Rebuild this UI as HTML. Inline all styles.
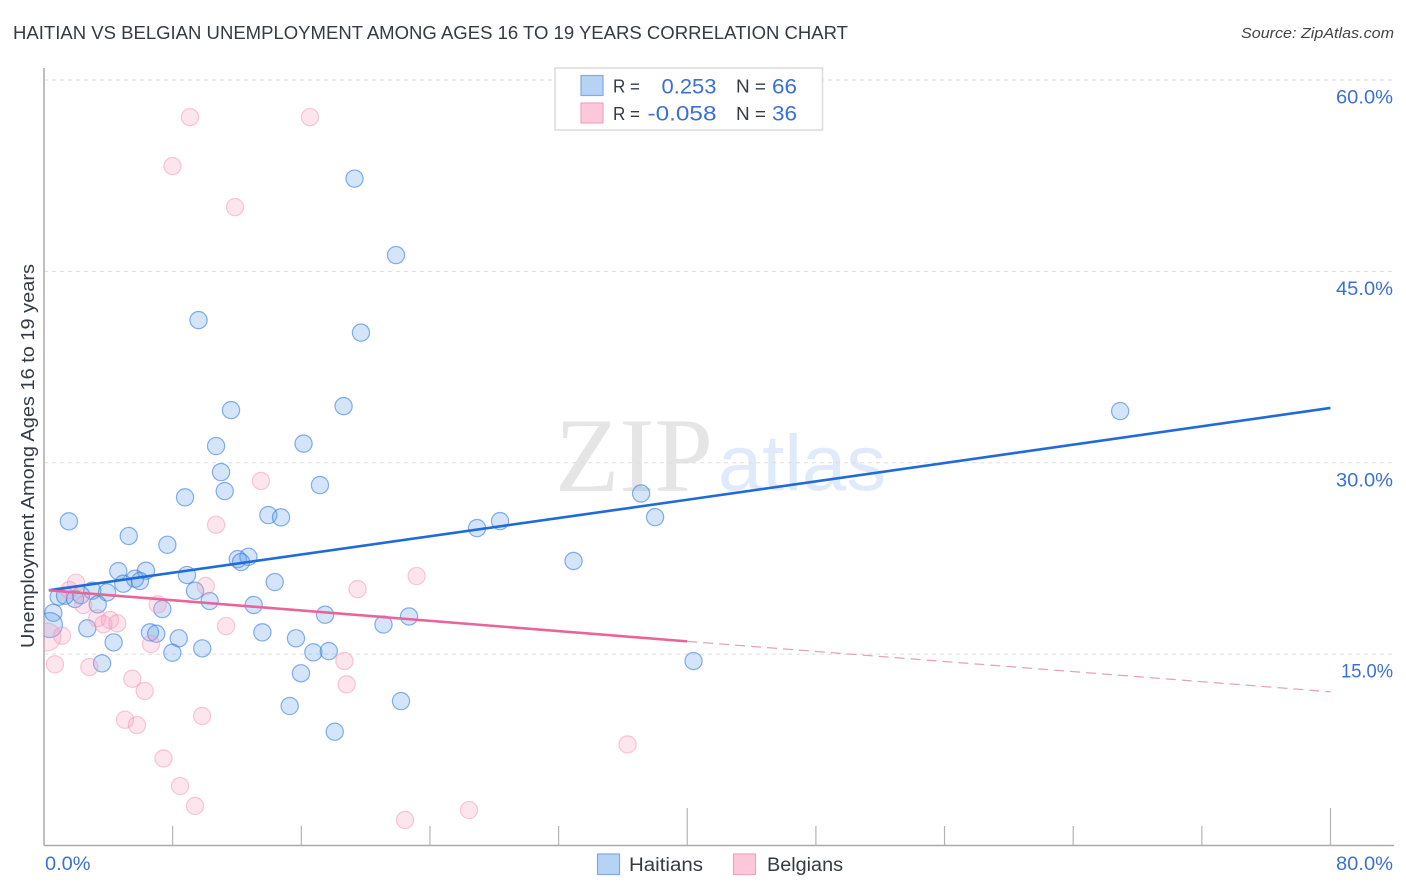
<!DOCTYPE html>
<html lang="en">
<head>
<meta charset="utf-8">
<title>Haitian vs Belgian Unemployment Correlation Chart</title>
<style>
html,body{margin:0;padding:0;background:#fff;}
svg{display:block;font-family:"Liberation Sans",sans-serif;}
</style>
</head>
<body>
<svg id="chart" xmlns="http://www.w3.org/2000/svg" width="1406" height="892" viewBox="0 0 1406 892">
  <defs>
    <clipPath id="plot-clip"><rect x="44" y="68" width="1350" height="777"/></clipPath>
  </defs>
  <rect x="0" y="0" width="1406" height="892" fill="#ffffff"/>
  <text x="13" y="39" font-size="18.5" fill="#333b44" textLength="835" lengthAdjust="spacingAndGlyphs">HAITIAN VS BELGIAN UNEMPLOYMENT AMONG AGES 16 TO 19 YEARS CORRELATION CHART</text>
  <text x="1394" y="38" font-size="15" font-style="italic" fill="#444" text-anchor="end" textLength="153" lengthAdjust="spacingAndGlyphs">Source: ZipAtlas.com</text>

  <g>
    <text x="555" y="491" font-family="'Liberation Serif',serif" font-size="106" fill="#e5e5e5" textLength="158" lengthAdjust="spacingAndGlyphs">ZIP</text>
    <text x="718" y="490" font-size="79" fill="#e0eafa" textLength="168" lengthAdjust="spacingAndGlyphs">atlas</text>
  </g>

  <g id="grid"></g>
  <g id="axes"></g>
  <g id="points" clip-path="url(#plot-clip)"></g>
  <g id="trends"></g>
  <g id="tick-labels"></g>

  <text transform="translate(34,456) rotate(-90)" font-size="18.5" fill="#333b44" text-anchor="middle" textLength="384" lengthAdjust="spacingAndGlyphs">Unemployment Among Ages 16 to 19 years</text>

  <g>
    <rect x="555" y="68" width="267.5" height="62" fill="#ffffff" stroke="#dcdcdc" stroke-width="1.5"/>
    <rect x="581" y="75.5" width="22" height="20" fill="#b6d2f5" stroke="#7fabe6" stroke-width="1.2"/>
    <rect x="581" y="103" width="22" height="20" fill="#fcc8da" stroke="#f2a3bd" stroke-width="1.2"/>
    <text x="613" y="92.5" font-size="18" fill="#333b44" textLength="27" lengthAdjust="spacingAndGlyphs">R =</text>
    <text x="716.5" y="93.5" font-size="21" fill="#3c70d2" text-anchor="end" textLength="55" lengthAdjust="spacingAndGlyphs">0.253</text>
    <text x="736" y="92.5" font-size="18" fill="#333b44" textLength="30" lengthAdjust="spacingAndGlyphs">N =</text>
    <text x="797" y="93.5" font-size="21" fill="#3c70d2" text-anchor="end" textLength="25" lengthAdjust="spacingAndGlyphs">66</text>
    <text x="613" y="120" font-size="18" fill="#333b44" textLength="27" lengthAdjust="spacingAndGlyphs">R =</text>
    <text x="716.5" y="120.5" font-size="21" fill="#3c70d2" text-anchor="end" textLength="69" lengthAdjust="spacingAndGlyphs">-0.058</text>
    <text x="736" y="120" font-size="18" fill="#333b44" textLength="30" lengthAdjust="spacingAndGlyphs">N =</text>
    <text x="797" y="120.5" font-size="21" fill="#3c70d2" text-anchor="end" textLength="25" lengthAdjust="spacingAndGlyphs">36</text>
  </g>

  <g>
    <g>
      <rect x="597.5" y="854" width="22" height="20.5" fill="#b6d2f5" stroke="#7fabe6" stroke-width="1.2"/>
      <text x="629" y="871" font-size="19" fill="#333b44" textLength="74" lengthAdjust="spacingAndGlyphs">Haitians</text>
    </g>
    <g>
      <rect x="733.5" y="854" width="22" height="20.5" fill="#fcc8da" stroke="#f2a3bd" stroke-width="1.2"/>
      <text x="767" y="871" font-size="19" fill="#333b44" textLength="76" lengthAdjust="spacingAndGlyphs">Belgians</text>
    </g>
  </g>
</svg>
<script>
// Chart data (values in percent)
var haitianX = [19.31,21.89,9.61,19.71,18.63,11.63,66.92,10.70,16.14,11.01,37.13,38.00,28.36,26.93,32.93,22.70,21.11,40.39,22.20,1.55,5.27,7.67,8.77,11.24,13.95,14.74,17.16,12.05,12.71,12.25,4.62,6.34,8.89,5.66,5.97,4.93,14.35,3.00,3.92,0.91,1.31,1.93,2.30,3.34,9.39,10.30,13.04,7.36,17.48,0.58,0.37,2.69,6.59,6.98,8.38,13.58,15.67,4.33,9.84,7.98,16.75,17.71,3.61,15.98,15.28,18.08];
var haitianY = [52.27,46.28,41.18,40.20,34.44,34.13,34.05,31.31,31.50,29.27,27.59,25.74,25.43,24.88,22.30,17.95,17.32,14.46,11.32,25.41,24.26,23.57,27.29,27.78,25.90,25.72,28.25,22.45,22.63,22.22,21.51,21.54,21.20,20.91,20.73,20.52,20.65,19.97,19.84,19.50,19.58,19.32,19.63,18.90,19.97,19.16,18.85,18.53,18.09,18.24,17.28,17.02,16.71,16.60,16.24,16.71,16.24,15.92,15.45,15.11,15.14,15.24,14.28,13.50,10.93,8.92];
var haitianWeight = [1,1,1,1,1,1,1,1,1,1,1,1,1,1,1,1,1,1,1,1,1,1,1,1,1,1,1,1,1,1,1,1,1,1,1,1,1,1,1,1,1,1,1,1,1,1,1,1,1,1,2.1,1,1,1,1,1,1,1,1,1,1,1,1,1,1,1];
var belgianX = [10.70,13.49,1.99,1.57,10.06,7.07,2.44,3.31,4.10,4.56,3.69,11.32,0.19,1.12,6.65,0.68,2.82,18.68,5.49,6.26,18.82,5.04,5.78,9.83,9.08,16.54,7.99,11.88,19.50,23.17,36.29,7.43,8.46,9.39,22.45,26.43];
var belgianY = [25.14,28.57,20.60,20.02,20.34,18.90,18.85,17.81,17.67,17.41,17.34,17.20,16.34,16.44,15.79,14.20,13.99,14.46,13.07,12.11,12.63,9.86,9.44,10.15,57.09,57.09,53.25,50.04,20.10,21.12,7.92,6.82,4.66,3.10,2.00,2.78];
var belgianWeight = [1,1,1,1,1,1,1,1,1,1,1,1,2.6,1,1,1,1,1,1,1,1,1,1,1,1,1,1,1,1,1,1,1,1,1,1,1];
var trendX = [0.3, 40, 80];
var haitianTrend = [20.0, 27.1, 34.3];
var belgianTrend = [20.0, 16.0, 12.05];
var yTickValues = [15, 30, 45, 60];
var yTickLabels = ["15.0%", "30.0%", "45.0%", "60.0%"];
var xTickValues = [0, 8, 16, 24, 32, 40, 48, 56, 64, 72, 80];
var xMajorTicks = [40, 80];
var xEndValues = [0, 80];
var xEndLabels = ["0.0%", "80.0%"];

var NS = "http://www.w3.org/2000/svg";
function xScale(v) { return 44 + v * 16.081; }
function yScale(v) { return 845.5 - v * 12.758; }
function make(tag, parent, attrs) {
  var el = document.createElementNS(NS, tag);
  for (var k in attrs) { el.setAttribute(k, attrs[k]); }
  parent.appendChild(el);
  return el;
}
// The reference face has a narrow "1"; fit label widths to its advance widths.
function labelWidth(s) {
  var w = 0;
  for (var i = 0; i < s.length; i++) {
    var ch = s.charAt(i);
    w += ch === "1" ? 6.5 : ch === "." ? 5 : ch === "%" ? 17.5 : 11.5;
  }
  return w;
}

var grid = document.getElementById("grid");
var axes = document.getElementById("axes");
var pointsG = document.getElementById("points");
var trends = document.getElementById("trends");
var labels = document.getElementById("tick-labels");

yTickValues.forEach(function (v) {
  var line = make("line", grid, {x1: 44, x2: 1394, y1: yScale(v), y2: yScale(v), stroke: "#dedede", "stroke-width": 1, "stroke-dasharray": "4 4"});
  
  
});

var yAxisLine = make("line", axes, {x1: 44, x2: 44, y1: 68, y2: 845.5, stroke: "#aaaaaa", "stroke-width": 1.5});


var xAxisLine = make("line", axes, {x1: 44, x2: 1394, y1: 845.5, y2: 845.5, stroke: "#aaaaaa", "stroke-width": 1.5});



xTickValues.slice(1).forEach(function (v) {
  var top = xMajorTicks.indexOf(v) >= 0 ? 808 : 826;
  var tick = make("line", axes, {x1: xScale(v), x2: xScale(v), y1: top, y2: 845.5, stroke: "#b4b4b4", "stroke-width": 1.2});
  
  
});

function drawPoints(xs, ys, weights, fill, stroke, name) {
  xs.forEach(function (v, i) {
    var r = 8.6 * Math.sqrt(weights[i]);
    var c = make("circle", pointsG, {cx: xScale(v), cy: yScale(ys[i]), r: r, fill: fill, stroke: stroke, "stroke-width": 1.2});
    
    
  });
}
drawPoints(haitianX, haitianY, haitianWeight, "rgba(100,160,235,0.28)", "rgba(50,120,220,0.58)", "haitian-point");
drawPoints(belgianX, belgianY, belgianWeight, "rgba(248,160,190,0.27)", "rgba(240,140,175,0.45)", "belgian-point");

var blueTrend = make("path", trends, {
  d: "M" + trendX.map(function (v, i) { return xScale(v) + " " + yScale(haitianTrend[i]); }).join(" L"),
  fill: "none", stroke: "#1f6bd8", "stroke-width": 2.6
});



var pinkSolid = make("line", trends, {
  x1: xScale(trendX[0]), y1: yScale(belgianTrend[0]), x2: xScale(trendX[1]), y2: yScale(belgianTrend[1]),
  stroke: "#e8659a", "stroke-width": 2.6
});



var pinkDash = make("line", trends, {
  x1: xScale(trendX[1]), y1: yScale(belgianTrend[1]), x2: xScale(trendX[2]), y2: yScale(belgianTrend[2]),
  stroke: "#e8a0bb", "stroke-width": 1.2, "stroke-dasharray": "10 6"
});



yTickValues.forEach(function (v, i) {
  var t = make("text", labels, {x: 1393, y: yScale(v) + 23.5, "font-size": 19.5, fill: "#3c70d2", "text-anchor": "end", textLength: labelWidth(yTickLabels[i]), lengthAdjust: "spacingAndGlyphs"});
  t.textContent = yTickLabels[i];
  
  
});
xEndValues.forEach(function (v, i) {
  var isLast = i === xEndValues.length - 1;
  var t = make("text", labels, {x: isLast ? 1393 : xScale(v) + 1, y: 870, "font-size": 19.5, fill: "#3c70d2", "text-anchor": isLast ? "end" : "start", textLength: labelWidth(xEndLabels[i]), lengthAdjust: "spacingAndGlyphs"});
  t.textContent = xEndLabels[i];
  
  
});
</script>
</body>
</html>
